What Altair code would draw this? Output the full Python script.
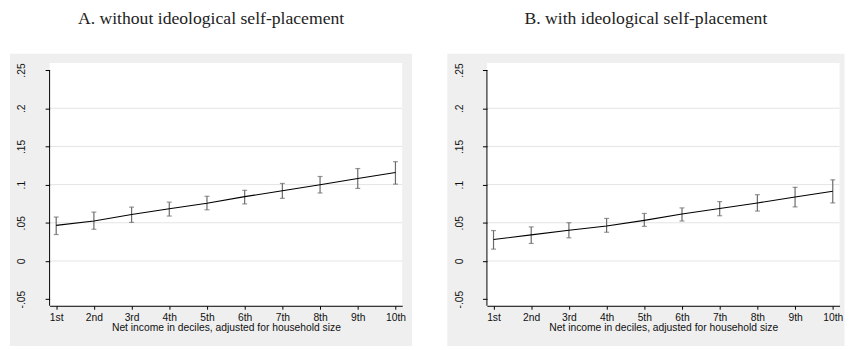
import altair as alt
import pandas as pd

# ---- data ----
deciles = ["1st", "2nd", "3rd", "4th", "5th", "6th", "7th", "8th", "9th", "10th"]
decile_num = [1, 2, 3, 4, 5, 6, 7, 8, 9, 10]

a_est = [0.0466, 0.0523, 0.0609, 0.0683, 0.0756, 0.0842, 0.0920, 0.0997, 0.1080, 0.1158]
a_lo = [0.0346, 0.0415, 0.0505, 0.0588, 0.0670, 0.0747, 0.0820, 0.0890, 0.0950, 0.1006]
a_hi = [0.0575, 0.0640, 0.0705, 0.0770, 0.0847, 0.0925, 0.1015, 0.1106, 0.1210, 0.1300]

b_est = [0.0281, 0.0342, 0.0402, 0.0458, 0.0531, 0.0614, 0.0687, 0.0760, 0.0838, 0.0912]
b_lo = [0.0155, 0.0229, 0.0303, 0.0376, 0.0453, 0.0523, 0.0592, 0.0653, 0.0708, 0.0760]
b_hi = [0.0398, 0.0446, 0.0501, 0.0557, 0.0622, 0.0695, 0.0777, 0.0868, 0.0964, 0.1062]

y_ticks = [-0.05, 0, 0.05, 0.1, 0.15, 0.2, 0.25]
grid_vals = [0, 0.05, 0.1, 0.15, 0.2]
panel_titles = ["A. without ideological self-placement", "B. with ideological self-placement"]
x_title = "Net income in deciles, adjusted for household size"

# ---- styling ----
W, H = 356, 245
XDOM = [0.825, 10.18]
YDOM = [-0.0587, 0.2591]
BG = "#efefef"
FONT = "Liberation Sans"
LABEL_SIZE = 10.4

label_expr = "[" + ",".join("'%s'" % d for d in deciles) + "][datum.value - 1]"

xscale = alt.Scale(domain=XDOM, nice=False, zero=False)
yscale = alt.Scale(domain=YDOM, nice=False, zero=False)

xaxis = alt.Axis(
    values=decile_num, labelExpr=label_expr, title=x_title, grid=False,
    domain=True, domainColor="#000", domainWidth=1,
    ticks=True, tickColor="#000", tickSize=3.5, tickWidth=1,
    labelFont=FONT, labelFontSize=LABEL_SIZE, labelColor="#111", labelPadding=3,
    labelFlush=False, labelOverlap=False,
    titleFont=FONT, titleFontSize=LABEL_SIZE, titleFontWeight="normal", titleColor="#111",
    titleBaseline="alphabetic", titleY=25, zindex=1,
)
yaxis = alt.Axis(
    values=y_ticks,
    labelExpr="(datum.value < 0 ? '-' : '') + replace(format(abs(datum.value), '.2~f'), '0.', '.')",
    title=None, grid=False, domain=False,
    ticks=True, tickColor="#000", tickSize=4.5, tickWidth=1,
    labelFont=FONT, labelFontSize=LABEL_SIZE, labelColor="#111",
    labelAngle=270, labelAlign="center", labelBaseline="alphabetic", labelPadding=20.5,
    labelFlush=False, labelOverlap=False, zindex=1,
)


def panel(est, lo, hi, title, right_ext):
    df = pd.DataFrame({"x": decile_num, "est": est, "lo": lo, "hi": hi})
    one = pd.DataFrame({"k": [0]})
    grid_df = pd.DataFrame({"g": grid_vals})

    gray = alt.Chart(one).mark_rect(color=BG).encode(
        x=alt.value(-40), x2=alt.value(W + right_ext),
        y=alt.value(-9.5), y2=alt.value(H + 40.5),
    )
    white = alt.Chart(one).mark_rect(color="#ffffff").encode(
        x=alt.value(0), x2=alt.value(W), y=alt.value(0), y2=alt.value(H),
    )
    grid = alt.Chart(grid_df).mark_rule(color="#e4e4e4", strokeWidth=1).encode(
        y=alt.Y("g:Q", scale=yscale, axis=yaxis),
        x=alt.value(0), x2=alt.value(W),
    )
    yline = alt.Chart(one).mark_rule(color="#000", strokeWidth=1).encode(
        x=alt.value(0),
        y=alt.Y(datum=0.25, scale=yscale, axis=yaxis),
        y2=alt.value(H),
    )
    bars = alt.Chart(df).mark_rule(color="#6a6a6a", strokeWidth=1.2).encode(
        x=alt.X("x:Q", scale=xscale, axis=xaxis),
        y=alt.Y("lo:Q", scale=yscale, axis=yaxis),
        y2="hi:Q",
    )
    cap_lo = alt.Chart(df).mark_tick(color="#6a6a6a", orient="horizontal", size=5, thickness=1.2).encode(
        x=alt.X("x:Q", scale=xscale, axis=xaxis),
        y=alt.Y("lo:Q", scale=yscale, axis=yaxis),
    )
    cap_hi = alt.Chart(df).mark_tick(color="#6a6a6a", orient="horizontal", size=5, thickness=1.2).encode(
        x=alt.X("x:Q", scale=xscale, axis=xaxis),
        y=alt.Y("hi:Q", scale=yscale, axis=yaxis),
    )
    line = alt.Chart(df).mark_line(color="#000", strokeWidth=1.1).encode(
        x=alt.X("x:Q", scale=xscale, axis=xaxis),
        y=alt.Y("est:Q", scale=yscale, axis=yaxis),
    )
    return alt.layer(gray, white, grid, yline, bars, cap_lo, cap_hi, line).properties(
        width=W, height=H,
        title=alt.TitleParams(
            text=title, font="Liberation Serif", fontSize=17.8, fontWeight="normal",
            color="#222", anchor="middle", frame="bounds", baseline="alphabetic", offset=12,
        ),
    )


pa = panel(a_est, a_lo, a_hi, panel_titles[0], 10)
pb = panel(b_est, b_lo, b_hi, panel_titles[1], 5)

chart = alt.hconcat(pa, pb, spacing=35.5).properties(
    padding={"left": 2, "top": 0, "right": 0, "bottom": 0},
    background="#ffffff",
).configure_view(stroke=None)

chart.save("out.html", embed_options={"renderer": "svg", "actions": False})
